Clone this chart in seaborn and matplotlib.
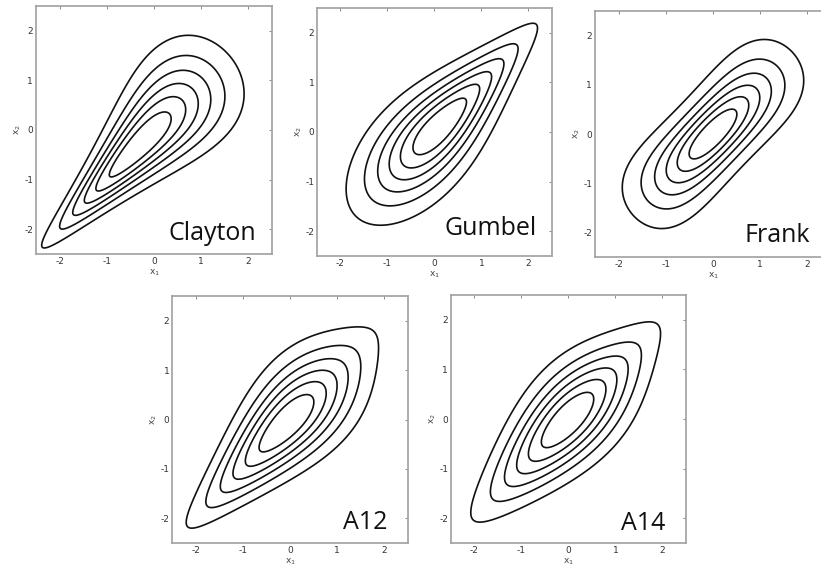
import numpy as np
import matplotlib
matplotlib.use("Agg")
import matplotlib.pyplot as plt
import seaborn as sns
from math import erf

# Copula families and their parameters (Kendall's tau = 0.5)
families = ["Clayton", "Gumbel", "Frank", "A12", "A14"]
thetas = [2.0, 2.0, 5.736, 4.0 / 3.0, 1.5]
# number of density contours per panel, spread evenly between 0 and the peak
contour_count = 6
tick_values = [-2, -1, 0, 1, 2]
axis_limits = [-2.5, 2.5]

# [left, bottom, width, height] in figure fractions
panel_boxes = [
    [0.0438, 0.5552, 0.2875, 0.4343],
    [0.3861, 0.5517, 0.2862, 0.4343],
    [0.7247, 0.5499, 0.2875, 0.4308],
    [0.2095, 0.0490, 0.2875, 0.4326],
    [0.5493, 0.0490, 0.2862, 0.4343],
]
# (right edge, baseline) of the family name, in axes fractions
name_anchor = [
    (0.932, 0.056),
    (0.936, 0.085),
    (0.911, 0.061),
    (0.911, 0.057),
    (0.911, 0.052),
]


def copula_cdf(name, th, u, v):
    if name == "Clayton":
        return (u ** -th + v ** -th - 1.0) ** (-1.0 / th)
    if name == "Gumbel":
        return np.exp(-(((-np.log(u)) ** th + (-np.log(v)) ** th) ** (1.0 / th)))
    if name == "Frank":
        num = np.expm1(-th * u) * np.expm1(-th * v)
        return -np.log1p(num / np.expm1(-th)) / th
    if name == "A12":
        s = ((1.0 / u - 1.0) ** th + (1.0 / v - 1.0) ** th) ** (1.0 / th)
        return 1.0 / (1.0 + s)
    if name == "A14":
        s = ((u ** (-1.0 / th) - 1.0) ** th + (v ** (-1.0 / th) - 1.0) ** th) ** (1.0 / th)
        return (1.0 + s) ** (-th)
    raise ValueError(name)


grid = np.linspace(-3.2, 3.2, 641)
norm_cdf = np.vectorize(lambda z: 0.5 * (1.0 + erf(z / np.sqrt(2.0))))(grid)
norm_cdf = np.clip(norm_cdf, 1e-12, 1 - 1e-12)
U, V = np.meshgrid(norm_cdf, norm_cdf)  # U varies along x1 (columns), V along x2 (rows)
X1, X2 = np.meshgrid(grid, grid)


def joint_density(name, th):
    """Density of (x1, x2) with standard normal margins joined by the copula."""
    F = copula_cdf(name, th, U, V)
    dF = np.gradient(F, grid, axis=1)
    return np.gradient(dF, grid, axis=0)


sns.set_style("white")
plt.rcParams["font.family"] = ["DejaVu Sans"]

fig = plt.figure(figsize=(8.21, 5.71), dpi=100)
spine_grey = "#a0a0a0"

for name, th, box, (tx, ty) in zip(families, thetas, panel_boxes, name_anchor):
    ax = fig.add_axes(box)
    Z = joint_density(name, th)
    inside = (np.abs(X1) <= 2.5) & (np.abs(X2) <= 2.5)
    peak = Z[inside].max()
    lv = np.linspace(0.0, peak, contour_count + 2)[1:-1]
    ax.contour(X1, X2, Z, levels=lv, colors="#111111", linewidths=1.2)
    ax.set_xlim(axis_limits)
    ax.set_ylim(axis_limits)
    ax.set_xticks(tick_values)
    ax.set_yticks(tick_values)
    ax.set_xticklabels([str(t) for t in tick_values])
    ax.set_yticklabels([str(t) for t in tick_values])
    ax.tick_params(direction="in", length=2.5, width=0.6, color="#777777",
                   labelsize=6.5, labelcolor="#333333", pad=2,
                   top=True, right=True)
    for s in ax.spines.values():
        s.set_color(spine_grey)
        s.set_linewidth(1.2)
    ax.set_xlabel("x$_1$", fontsize=6.5, color="#444444", labelpad=1)
    ax.set_ylabel("x$_2$", fontsize=6.5, color="#444444", labelpad=1)
    ax.text(tx, ty, name, transform=ax.transAxes, ha="right", va="baseline",
            fontsize=18, family="Open Sans", color="#111111")

fig.savefig("out.png", dpi=100)
